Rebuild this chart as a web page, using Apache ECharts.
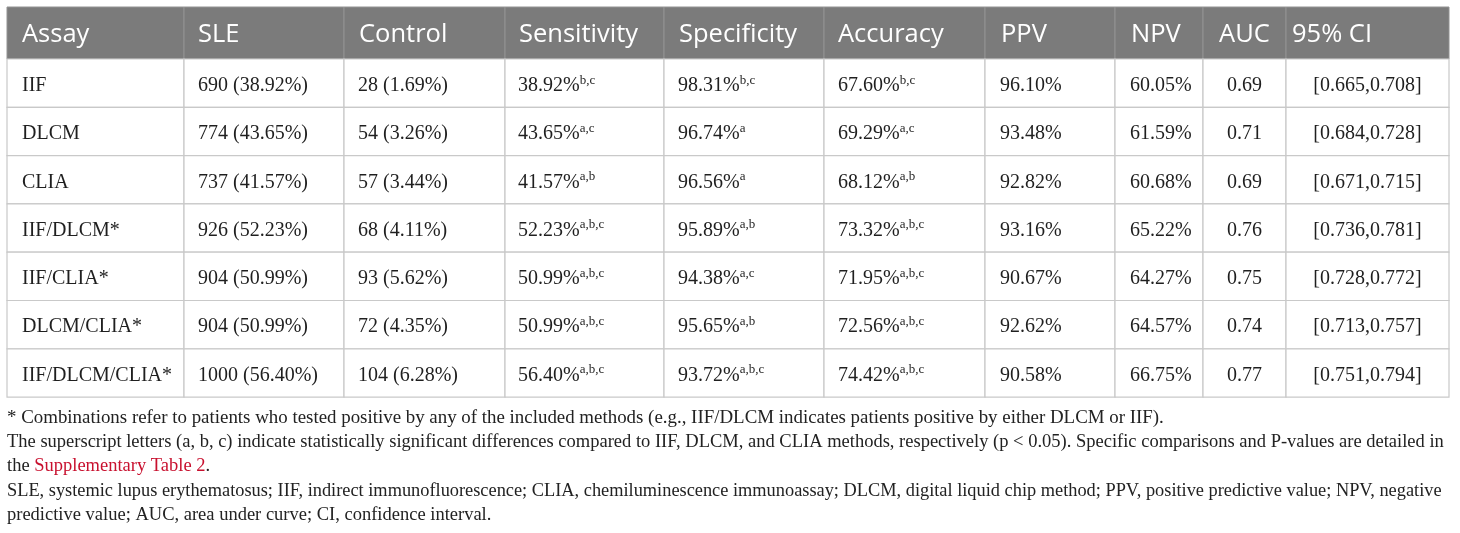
<!DOCTYPE html>
<html>
<head>
<meta charset="utf-8">
<script src="https://cdn.jsdelivr.net/npm/echarts@6/dist/echarts.min.js"></script>
<style>
html,body{margin:0;padding:0;background:#fff;}
#chart{width:1460px;height:533px;}
</style>
</head>
<body>
<div id="chart"></div>
<script>
// ---------- DATA ----------
const columns = ['Assay','SLE','Control','Sensitivity','Specificity','Accuracy','PPV','NPV','AUC','95% CI'];
const assays = ['IIF','DLCM','CLIA','IIF/DLCM*','IIF/CLIA*','DLCM/CLIA*','IIF/DLCM/CLIA*'];
const sleN = [690, 774, 737, 926, 904, 904, 1000];
const slePct = [38.92, 43.65, 41.57, 52.23, 50.99, 50.99, 56.40];
const controlN = [28, 54, 57, 68, 93, 72, 104];
const controlPct = [1.69, 3.26, 3.44, 4.11, 5.62, 4.35, 6.28];
const sensitivity = [38.92, 43.65, 41.57, 52.23, 50.99, 50.99, 56.40];
const sensitivitySup = ['b,c','a,c','a,b','a,b,c','a,b,c','a,b,c','a,b,c'];
const specificity = [98.31, 96.74, 96.56, 95.89, 94.38, 95.65, 93.72];
const specificitySup = ['b,c','a','a','a,b','a,c','a,b','a,b,c'];
const accuracy = [67.60, 69.29, 68.12, 73.32, 71.95, 72.56, 74.42];
const accuracySup = ['b,c','a,c','a,b','a,b,c','a,b,c','a,b,c','a,b,c'];
const ppv = [96.10, 93.48, 92.82, 93.16, 90.67, 92.62, 90.58];
const npv = [60.05, 61.59, 60.68, 65.22, 64.27, 64.57, 66.75];
const auc = [0.69, 0.71, 0.69, 0.76, 0.75, 0.74, 0.77];
const ciLow = [0.665, 0.684, 0.671, 0.736, 0.728, 0.713, 0.751];
const ciHigh = [0.708, 0.728, 0.715, 0.781, 0.772, 0.757, 0.794];
const footnotes = [
  '{l1|* Combinations refer to patients who tested positive by any of the included methods (e.g., IIF/DLCM indicates patients positive by either DLCM or IIF).}',
  '{l2|The superscript letters (a, b, c) indicate statistically significant differences compared to IIF, DLCM, and CLIA methods, respectively (p < 0.05). Specific comparisons and P-values are detailed in}',
  '{l2|the }{link|Supplementary Table 2}{l2|.}',
  '{l4|SLE, systemic lupus erythematosus; IIF, indirect immunofluorescence; CLIA, chemiluminescence immunoassay; DLCM, digital liquid chip method; PPV, positive predictive value; NPV, negative}',
  '{l2|predictive value; AUC, area under curve; CI, confidence interval.}'
];

// ---------- LAYOUT (sizes, not data) ----------
const colWidths = [177, 160, 161, 159, 160, 161, 130, 88, 83, 163];
const headerH = 52;
const rowH = 48.3;
const colEdges = [0];
colWidths.forEach(w => colEdges.push(colEdges[colEdges.length - 1] + w));
const rowEdges = [0, headerH];
for (let i = 0; i < assays.length; i++) rowEdges.push(rowEdges[rowEdges.length - 1] + rowH);
const tableW = colEdges[colEdges.length - 1];
const tableH = rowEdges[rowEdges.length - 1];

const bodyFont = '"Liberation Serif", "Times New Roman", serif';
const headFont = '"Open Sans", "Noto Sans", sans-serif';
const noteColor = '#222222';
const noteLH = 24.2;

function pct(v) { return v.toFixed(2) + '%'; }
function bodyText(r, c) {
  switch (c) {
    case 0: return '{v|' + assays[r] + '}';
    case 1: return '{v|' + sleN[r] + ' (' + pct(slePct[r]) + ')}';
    case 2: return '{v|' + controlN[r] + ' (' + pct(controlPct[r]) + ')}';
    case 3: return '{v|' + pct(sensitivity[r]) + '}{s|' + sensitivitySup[r] + '}';
    case 4: return '{v|' + pct(specificity[r]) + '}{s|' + specificitySup[r] + '}';
    case 5: return '{v|' + pct(accuracy[r]) + '}{s|' + accuracySup[r] + '}';
    case 6: return '{v|' + pct(ppv[r]) + '}';
    case 7: return '{v|' + pct(npv[r]) + '}';
    case 8: return '{v|' + auc[r].toFixed(2) + '}';
    case 9: return '{v|[' + ciLow[r].toFixed(3) + ',' + ciHigh[r].toFixed(3) + ']}';
  }
  return '';
}
const bodyCenter = [false, false, false, false, false, false, false, false, true, true];
const headAlign = ['left','left','left','left','left','left','left','left','center','left'];
const headPad = [15, 14, 15, 14, 15, 14, 16, 16, 0, 6];
const bodyPad = [15, 14, 14, 13, 14, 14, 15, 15, 0, 0];

const cells = [];
for (let r = 0; r <= assays.length; r++) {
  for (let c = 0; c < columns.length; c++) cells.push([c, r]);
}

function noteStyle(size, color) {
  return { fontFamily: bodyFont, fontSize: size, lineHeight: noteLH, color: color || noteColor };
}

const chart = echarts.init(document.getElementById('chart'), null, { renderer: 'canvas' });
chart.setOption({
  backgroundColor: '#ffffff',
  animation: false,
  title: {
    left: 7,
    top: 406,
    padding: 0,
    text: footnotes.join('\n'),
    textStyle: {
      fontFamily: bodyFont,
      fontSize: 18.5,
      fontWeight: 'normal',
      color: noteColor,
      lineHeight: noteLH,
      rich: {
        l1: noteStyle(18.9),
        l2: noteStyle(18.5),
        l4: noteStyle(18.35),
        link: noteStyle(18.5, '#c8102e')
      }
    }
  },
  grid: { left: 7, top: 7, width: tableW, height: tableH, containLabel: false, show: false },
  xAxis: { type: 'value', min: 0, max: tableW, show: false },
  yAxis: { type: 'value', min: 0, max: tableH, inverse: true, show: false },
  series: [{
    type: 'custom',
    coordinateSystem: 'cartesian2d',
    clip: false,
    data: cells,
    renderItem: function (params, api) {
      const c = api.value(0), r = api.value(1);
      const p0 = api.coord([colEdges[c], rowEdges[r]]);
      const p1 = api.coord([colEdges[c + 1], rowEdges[r + 1]]);
      const x = p0[0], y = p0[1], w = p1[0] - p0[0], h = p1[1] - p0[1];
      const isHead = r === 0;
      const children = [{
        type: 'rect',
        shape: { x: x, y: y, width: w, height: h },
        style: isHead ? { fill: '#7b7b7b', stroke: '#939393', lineWidth: 1 }
                      : { fill: '#ffffff', stroke: '#c9c9c9', lineWidth: 1.2 }
      }];
      if (isHead) {
        const center = headAlign[c] === 'center';
        children.push({
          type: 'text',
          style: {
            x: center ? x + w / 2 : x + headPad[c],
            y: y + h / 2 + 2,
            text: columns[c],
            fill: '#ffffff',
            font: '25.5px ' + headFont,
            align: center ? 'center' : 'left',
            verticalAlign: 'middle'
          }
        });
      } else {
        const center = bodyCenter[c];
        children.push({
          type: 'text',
          style: {
            x: center ? x + w / 2 : x + bodyPad[c],
            y: y + h / 2 + 2.5,
            text: bodyText(r - 1, c),
            align: center ? 'center' : 'left',
            verticalAlign: 'middle',
            rich: {
              v: { fontFamily: bodyFont, fontSize: 20, lineHeight: 24, fill: '#1f1f1f' },
              s: { fontFamily: bodyFont, fontSize: 13, lineHeight: 13, fill: '#1f1f1f', verticalAlign: 'top' }
            }
          }
        });
      }
      return { type: 'group', children: children };
    }
  }]
});
</script>
</body>
</html>
